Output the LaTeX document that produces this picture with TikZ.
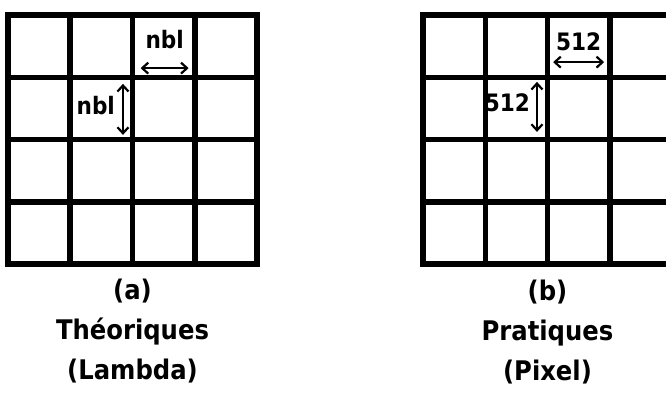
\documentclass[tikz,border=0pt]{standalone}
\usepackage{fontspec}
\setmainfont{DejaVu Sans Condensed}
\usepackage{tikz}
\usetikzlibrary{arrows.meta, matrix, positioning}

\begin{document}
\begin{tikzpicture}[
    x=1pt, y=1pt,
    >={Straight Barb[length=6pt, width=11pt]},
    every node/.style={align=center, font=\bfseries}
]

\tikzset{
    cell/.style={draw, line width=5.5pt, minimum size=62.25pt, inner sep=0pt, outer sep=0pt},
    dimarrow/.style={<->, line width=2.2pt},
    dimlabel/.style={font=\bfseries\fontsize{24}{24}\selectfont, inner sep=0pt},
    caption/.style={font=\bfseries\fontsize{27}{40}\selectfont, inner sep=0pt}
}

\useasboundingbox (0,0) rectangle (666,-392);
\clip (0,0) rectangle (666,-392);

% (a) grille theorique
\matrix (a) [
    matrix of nodes,
    nodes in empty cells,
    nodes={cell},
    column sep=-5.5pt, row sep=-5.5pt
] at (132.5,-139.5) {
    & & & \\
    & & & \\
    & & & \\
    & & & \\
};

\coordinate (ah1) at ([shift={(-23,-22)}]a-1-3.center);
\coordinate (ah2) at ([shift={(25,-22)}]a-1-3.center);
\coordinate (av1) at ([shift={(21.6,24.5)}]a-2-2.center);
\coordinate (av2) at ([shift={(21.6,-26.5)}]a-2-2.center);

\draw [dimarrow] (ah1) -- (ah2)
    node[midway, above=18pt, dimlabel] (nblh) {nbl};
\draw [dimarrow] (av1) -- (av2)
    node[pos=0.42, left=7pt, dimlabel] (nblv) {nbl};

\node [caption] (capa) [below=9pt of a] {(a)\\Théoriques\\(Lambda)};

% (b) grille pratique
\matrix (b) [
    matrix of nodes,
    nodes in empty cells,
    nodes={cell},
    column sep=-5.5pt, row sep=-5.5pt
] at (547.5,-139.5) {
    & & & \\
    & & & \\
    & & & \\
    & & & \\
};

\coordinate (bh1) at ([shift={(-25.5,-16)}]b-1-3.center);
\coordinate (bh2) at ([shift={(25.5,-16)}]b-1-3.center);
\coordinate (bv1) at ([shift={(20.6,26.5)}]b-2-2.center);
\coordinate (bv2) at ([shift={(20.6,-23.5)}]b-2-2.center);

\draw [dimarrow] (bh1) -- (bh2)
    node[midway, above=10pt, dimlabel] (px512h) {512};
\draw [dimarrow] (bv1) -- (bv2)
    node[pos=0.42, left=6pt, dimlabel] (px512v) {512};

\node [caption] (capb) [below=9pt of b] {(b)\\Pratiques\\(Pixel)};

\end{tikzpicture}
\end{document}
